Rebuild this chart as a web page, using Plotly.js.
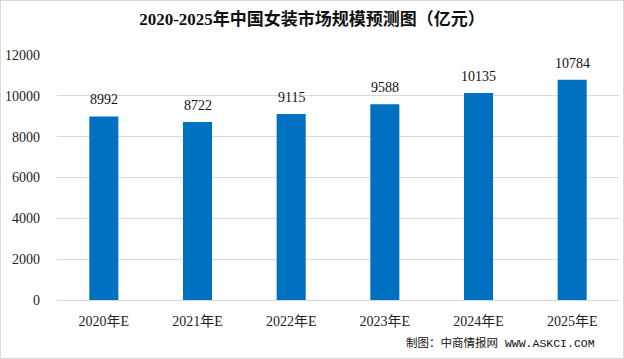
<!DOCTYPE html>
<html>
<head>
<meta charset="utf-8">
<script src="https://cdn.plot.ly/plotly-3.0.1.min.js"></script>
<style>
html,body{margin:0;padding:0;background:#fff;}
#wrap{position:relative;width:624px;height:359px;}
#chart{width:624px;height:359px;}
#frame{position:absolute;left:0;top:0;width:622px;height:357px;border:1px solid #d9d9d9;pointer-events:none;}
</style>
</head>
<body>
<div id="wrap"><div id="chart"></div><div id="frame"></div></div>
<script>
const categories = ["2020年E","2021年E","2022年E","2023年E","2024年E","2025年E"];
const values = [8992, 8722, 9115, 9588, 10135, 10784];
const yTicks = [0, 2000, 4000, 6000, 8000, 10000, 12000];
const titleText = "2020-2025年中国女装市场规模预测图（亿元）";
const sourceText = "制图：中商情报网 WWW.ASKCI.COM";

const fontFam = "'Liberation Serif', 'Noto Sans CJK SC', serif";

const trace = {
  type: "bar",
  x: categories,
  y: values,
  marker: {color: "#0070C0"},
  hoverinfo: "none"
};

const annotations = categories.map((c, i) => ({
  x: c, y: values[i], xref: "x", yref: "y",
  text: String(values[i]),
  showarrow: false, yanchor: "bottom", yshift: 7,
  font: {family: fontFam, size: 14, color: "#111"}
}));
annotations.push({
  xref: "paper", yref: "paper", x: 0.96, y: -0.175,
  xanchor: "right", yanchor: "middle",
  text: sourceText, showarrow: false,
  font: {family: "'Liberation Mono', 'Noto Sans CJK SC', monospace", size: 11.5, color: "#111"}
});

const layout = {
  width: 624, height: 359,
  margin: {l: 57, r: 5, t: 55, b: 59},
  paper_bgcolor: "#fff", plot_bgcolor: "#fff",
  title: {
    text: "<b>" + titleText + "</b>",
    x: 0.5, xref: "container", y: 1 - 19/359, yref: "container", yanchor: "middle",
    font: {family: fontFam, size: 17, color: "#111"}
  },
  bargap: 0.69,
  showlegend: false,
  xaxis: {
    type: "category",
    showgrid: false, zeroline: false,
    showline: true, linecolor: "#d9d9d9", linewidth: 1,
    ticks: "", ticklabelstandoff: 8,
    tickfont: {family: fontFam, size: 14, color: "#222"}
  },
  yaxis: {
    range: [0, 12000],
    tickvals: yTicks,
    ticktext: yTicks.map(String),
    showgrid: true, gridcolor: "#d9d9d9", gridwidth: 1,
    zeroline: false, showline: false,
    ticks: "", ticklabelstandoff: 16,
    tickfont: {family: fontFam, size: 14, color: "#222"}
  },
  annotations: annotations
};

Plotly.newPlot("chart", [trace], layout, {staticPlot: true, displayModeBar: false});
</script>
</body>
</html>
